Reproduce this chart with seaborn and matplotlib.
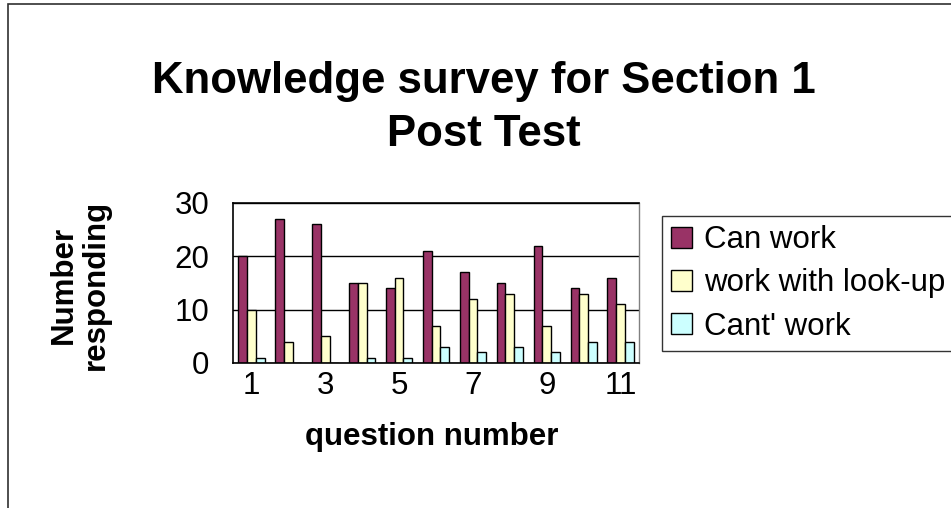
import matplotlib
matplotlib.use("Agg")
import matplotlib.pyplot as plt
import seaborn as sns
import pandas as pd
from matplotlib.patches import Rectangle, Patch

questions = [str(i) for i in range(1, 12)]
can_work = [20, 27, 26, 15, 14, 21, 17, 15, 22, 14, 16]
work_with_lookup = [10, 4, 5, 15, 16, 7, 12, 13, 7, 13, 11]
cant_work = [1, 0, 0, 1, 1, 3, 2, 3, 2, 4, 4]

series_names = ["Can work", "work with look-up", "Cant' work"]
series_colors = ["#993366", "#FFFFCC", "#CCFFFF"]
y_ticks = [0, 10, 20, 30]
x_tick_labels = ["1", "3", "5", "7", "9", "11"]

df = pd.DataFrame({
    "question": questions * 3,
    "count": can_work + work_with_lookup + cant_work,
    "response": [series_names[0]] * 11 + [series_names[1]] * 11 + [series_names[2]] * 11,
})

sns.set_style("white")
plt.rcParams["font.family"] = ["Liberation Sans", "DejaVu Sans"]
plt.rcParams["text.color"] = "black"
plt.rcParams["xtick.color"] = "black"
plt.rcParams["ytick.color"] = "black"
plt.rcParams["axes.labelcolor"] = "black"

W, H = 951, 508
fig = plt.figure(figsize=(W / 100, H / 100), dpi=100)
fig.patch.set_facecolor("white")

# outer chart frame (left and top edges visible)
fig.patches.append(Rectangle((8 / W, -0.1), 1.2, (H - 4) / H + 0.1,
                             transform=fig.transFigure, fill=False,
                             edgecolor="#303030", linewidth=1.2, zorder=0))

left, right, top, bottom = 233, 639, 203, 363
ax = fig.add_axes([left / W, (H - bottom) / H, (right - left) / W, (bottom - top) / H])

sns.barplot(data=df, x="question", y="count", hue="response", order=questions,
            hue_order=series_names, palette=series_colors, width=0.71,
            edgecolor="black", linewidth=1.0, saturation=1, ax=ax, legend=False)

fs = 22.5
ax.set_xlim(-0.5, 10.5)
ax.set_ylim(0, 30)
ax.set_yticks(y_ticks)
ax.set_yticklabels([str(t) for t in y_ticks], fontsize=fs)
ax.yaxis.grid(True, color="black", linewidth=1.0)
ax.set_axisbelow(True)

ax.set_xticks(range(0, 11, 2))
ax.set_xticklabels(x_tick_labels, fontsize=fs)
ax.set_xticks([i - 0.5 for i in range(12)], minor=True)
ax.tick_params(axis="x", which="major", length=0, pad=6)
ax.tick_params(axis="x", which="minor", length=7, width=1.0, color="black", direction="out")
ax.tick_params(axis="y", length=7, width=1.0, color="black", direction="out", pad=10)

for side in ["left", "bottom", "top"]:
    ax.spines[side].set_color("black")
    ax.spines[side].set_linewidth(1.2)
ax.spines["right"].set_color("#808080")
ax.spines["right"].set_linewidth(1.0)

ax.set_xlabel("")
ax.set_ylabel("")

fig.text(432 / W, (H - 437) / H, "question number", fontsize=fs, fontweight="bold",
         ha="center", va="center")
fig.text(80 / W, (H - 285) / H, "Number\nresponding", fontsize=fs, fontweight="bold",
         ha="center", va="center", rotation=90, linespacing=1.1)
fig.text(484 / W, (H - 108) / H, "Knowledge survey for Section 1\nPost Test",
         fontsize=31.5, fontweight="bold", ha="center", va="center", linespacing=1.35)

handles = [Patch(facecolor=c, edgecolor="black", linewidth=1.0) for c in series_colors]
leg = fig.legend(handles, series_names, loc="upper left", mode="expand",
                 bbox_to_anchor=(662 / W, (H - 216) / H, 320 / W, 0),
                 bbox_transform=fig.transFigure,
                 fontsize=fs, frameon=True, fancybox=False, edgecolor="black",
                 handlelength=0.65, handleheight=0.65, handletextpad=0.4,
                 labelspacing=0.42, borderpad=0.3, borderaxespad=0)
leg.get_frame().set_linewidth(1.0)

fig.savefig("out.png", dpi=100)
